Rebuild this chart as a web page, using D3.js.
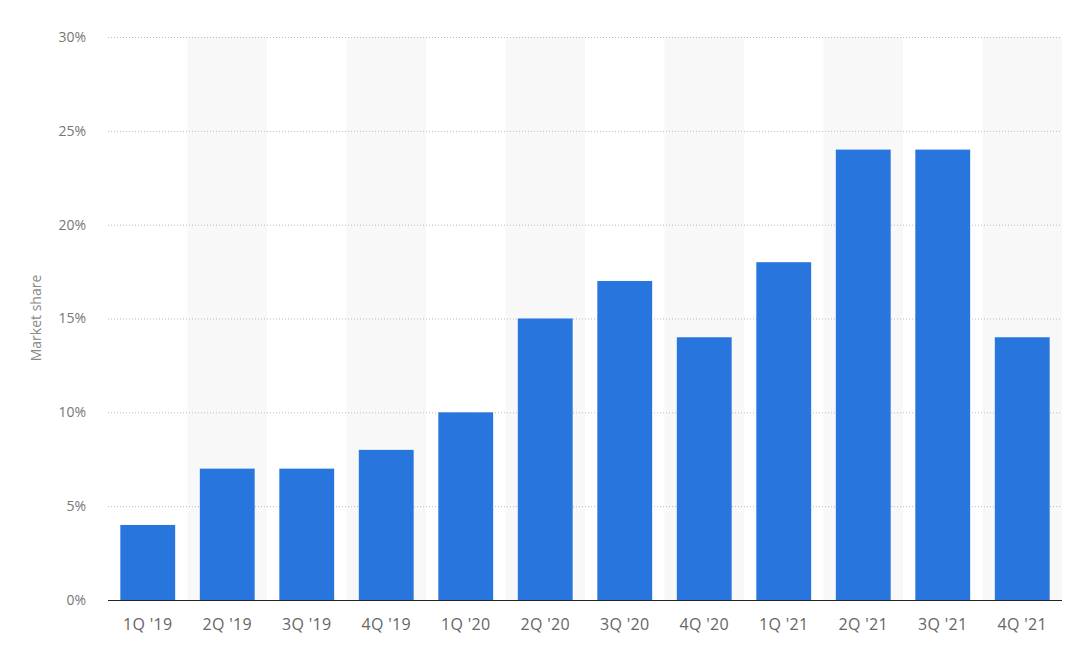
<!DOCTYPE html>
<html><head><meta charset="utf-8">
<script src="https://cdn.jsdelivr.net/npm/d3@7"></script>
<style>body{margin:0;background:#fff;}svg{display:block;font-family:"Open Sans",sans-serif;}</style>
</head><body>
<svg id="c" width="1080" height="645"></svg>
<script>
const categories = ["1Q '19","2Q '19","3Q '19","4Q '19","1Q '20","2Q '20","3Q '20","4Q '20","1Q '21","2Q '21","3Q '21","4Q '21"];
const shares = [4,7,7,8,10,15,17,14,18,24,24,14];
const yTicks = [0,5,10,15,20,25,30];

const svg = d3.select("#c");
const m = {left:108, right:1062, top:37, bottom:600};
const x = d3.scaleBand().domain(categories).range([m.left,m.right]).paddingInner(0.31).paddingOuter(0.155);
const xb = d3.scaleBand().domain(categories).range([m.left,m.right]);
const y = d3.scaleLinear().domain([0,30]).range([m.bottom,m.top]);

// alternating shaded bands
svg.append("g").selectAll("rect").data(categories.filter((d,i)=>i%2===1)).join("rect")
  .attr("x",d=>xb(d)).attr("width",xb.bandwidth())
  .attr("y",m.top).attr("height",m.bottom-m.top).attr("fill","#f8f8f8");

// gridlines
svg.append("g").selectAll("line").data(yTicks.filter(t=>t>0)).join("line")
  .attr("x1",m.left).attr("x2",m.right).attr("y1",d=>y(d)+0.5).attr("y2",d=>y(d)+0.5)
  .attr("stroke","#bbb").attr("stroke-width",1).attr("stroke-dasharray","1,2");

// y tick labels
svg.append("g").selectAll("text").data(yTicks).join("text")
  .attr("x",86).attr("y",d=>y(d)).attr("dy","0.35em").attr("text-anchor","end")
  .attr("fill","#777").attr("font-size",14).text(d=>d+"%");

// bars
svg.append("g").selectAll("rect").data(shares).join("rect")
  .attr("x",(d,i)=>x(categories[i])).attr("width",x.bandwidth())
  .attr("y",d=>y(d)).attr("height",d=>y(0)-y(d)).attr("fill","#2876dd");

// baseline
svg.append("line").attr("x1",m.left).attr("x2",m.right).attr("y1",m.bottom+0.5).attr("y2",m.bottom+0.5)
  .attr("stroke","#222").attr("stroke-width",1.2);

// x labels
svg.append("g").selectAll("text").data(categories).join("text")
  .attr("x",d=>xb(d)+xb.bandwidth()/2).attr("y",624).attr("dy","0.35em").attr("text-anchor","middle")
  .attr("fill","#666").attr("font-size",16).attr("letter-spacing",0.3).text(d=>d);

// y title
svg.append("text").attr("transform","translate(41,318) rotate(-90)").attr("text-anchor","middle")
  .attr("fill","#888").attr("font-size",14).text("Market share");
</script>
</body></html>
